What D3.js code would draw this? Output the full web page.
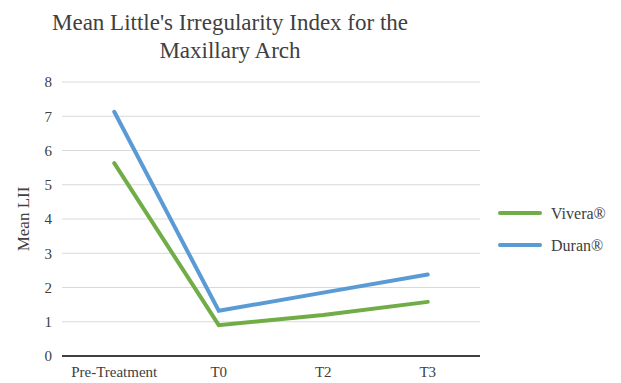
<!DOCTYPE html>
<html>
<head>
<meta charset="utf-8">
<script src="https://cdn.jsdelivr.net/npm/d3@7"></script>
<style>
  html, body { margin: 0; padding: 0; background: #fff; }
  svg { display: block; }
</style>
</head>
<body>
<script>
// Mean Little's Irregularity Index by time point
const categories = ["Pre-Treatment", "T0", "T2", "T3"];
const viveraValues = [5.63, 0.9, 1.2, 1.58];
const duranValues = [7.13, 1.32, 1.85, 2.38];
const seriesNames = ["Vivera®", "Duran®"];
const seriesColors = ["#70ad47", "#5b9bd5"];
const yTicks = [0, 1, 2, 3, 4, 5, 6, 7, 8];
const titleLines = ["Mean Little's Irregularity Index for the", "Maxillary Arch"];
const yTitle = "Mean LII";

const width = 621, height = 383;
const margin = { top: 82, right: 141, bottom: 27, left: 62 };
const serif = "'Liberation Serif', 'DejaVu Serif', 'Times New Roman', serif";

const svg = d3.select("body").append("svg")
  .attr("width", width).attr("height", height)
  .attr("font-family", serif)
  .style("font-family", serif);

const x = d3.scaleBand()
  .domain(categories)
  .range([margin.left, width - margin.right]);

const y = d3.scaleLinear()
  .domain([0, 8])
  .range([height - margin.bottom, margin.top]);

// gridlines
svg.append("g")
  .selectAll("line")
  .data(yTicks.filter(d => d > 0))
  .join("line")
  .attr("x1", margin.left).attr("x2", width - margin.right)
  .attr("y1", d => y(d)).attr("y2", d => y(d))
  .attr("stroke", "#d9d9d9").attr("stroke-width", 1);

// y tick labels
svg.append("g")
  .selectAll("text")
  .data(yTicks)
  .join("text")
  .attr("x", margin.left - 10)
  .attr("y", d => y(d))
  .attr("dy", "0.35em")
  .attr("text-anchor", "end")
  .attr("font-size", 15)
  .attr("fill", "#404040")
  .text(d => d);

// baseline axis
svg.append("line")
  .attr("x1", margin.left).attr("x2", width - margin.right)
  .attr("y1", y(0)).attr("y2", y(0))
  .attr("stroke", "#000").attr("stroke-width", 1.5);

// x labels
svg.append("g")
  .selectAll("text")
  .data(categories)
  .join("text")
  .attr("x", d => x(d) + x.bandwidth() / 2)
  .attr("y", y(0) + 21)
  .attr("text-anchor", "middle")
  .attr("font-size", 15)
  .attr("fill", "#404040")
  .text(d => d);

// series lines
const line = d3.line()
  .x((d, i) => x(categories[i]) + x.bandwidth() / 2)
  .y(d => y(d));

[viveraValues, duranValues].forEach((vals, i) => {
  svg.append("path")
    .datum(vals)
    .attr("d", line)
    .attr("fill", "none")
    .attr("stroke", seriesColors[i])
    .attr("stroke-width", 4)
    .attr("stroke-linejoin", "miter")
    .attr("stroke-linecap", "round");
});

// title
svg.append("text")
  .attr("x", 230).attr("y", 30)
  .attr("text-anchor", "middle")
  .attr("font-size", 23)
  .attr("fill", "#404040")
  .selectAll("tspan")
  .data(titleLines)
  .join("tspan")
  .attr("x", 230)
  .attr("dy", (d, i) => i === 0 ? 0 : 28)
  .text(d => d);

// y-axis title
svg.append("text")
  .attr("transform", `translate(29, ${(y(0) + y(8)) / 2}) rotate(-90)`)
  .attr("text-anchor", "middle")
  .attr("font-size", 17)
  .attr("fill", "#404040")
  .text(yTitle);

// legend
const legend = svg.append("g");
seriesNames.forEach((name, i) => {
  const ly = 213 + i * 32;
  legend.append("line")
    .attr("x1", 500).attr("x2", 540)
    .attr("y1", ly).attr("y2", ly)
    .attr("stroke", seriesColors[i])
    .attr("stroke-width", 4)
    .attr("stroke-linecap", "round");
  legend.append("text")
    .attr("x", 551).attr("y", ly)
    .attr("dy", "0.35em")
    .attr("font-size", 16)
    .attr("fill", "#404040")
    .text(name);
});
</script>
</body>
</html>
